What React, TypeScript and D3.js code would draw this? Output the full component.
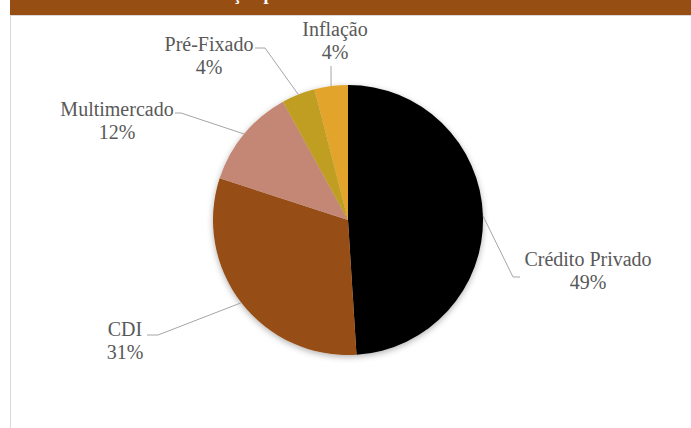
import { useRef, useEffect } from 'react';
import * as d3 from 'd3';

const categories = ['Crédito Privado', 'CDI', 'Multimercado', 'Pré-Fixado', 'Inflação'];
const values = [49, 31, 12, 4, 4];
const percentLabels = ['49%', '31%', '12%', '4%', '4%'];
const colors = ['#000000', '#974E13', '#C48776', '#BF9E22', '#E2A42C'];

// label text centre + elbow point of the leader line (layout only)
const labelLayout = [
  { x: 588, y: 266, elbow: [[513, 277], [520, 277]] },
  { x: 125, y: 336, elbow: [[158, 335], [147, 335]] },
  { x: 117, y: 116, elbow: [[181, 113], [175, 113]] },
  { x: 209, y: 51, elbow: [[265, 48], [255, 48]] },
  { x: 335, y: 36, elbow: [[331, 66]] },
];

const SERIF = "'Liberation Serif', 'DejaVu Serif', 'Times New Roman', serif";

export default function App() {
  const svgRef = useRef<SVGSVGElement>(null);

  useEffect(() => {
    const width = 691;
    const height = 428;
    const cx = 348;
    const cy = 220;
    const radius = 135;

    const svg = d3.select(svgRef.current);
    svg.selectAll('*').remove();
    svg.attr('viewBox', `0 0 ${width} ${height}`);

    const defs = svg.append('defs');
    const f = defs.append('filter').attr('id', 'shadow')
      .attr('x', '-20%').attr('y', '-20%').attr('width', '140%').attr('height', '140%');
    f.append('feDropShadow')
      .attr('dx', 0).attr('dy', 2).attr('stdDeviation', 3)
      .attr('flood-color', '#000').attr('flood-opacity', 0.3);

    svg.append('rect').attr('width', width).attr('height', height).attr('fill', '#ffffff');

    // chart frame
    svg.append('rect')
      .attr('x', 10.5).attr('y', 15.5)
      .attr('width', 700).attr('height', 430)
      .attr('fill', 'none').attr('stroke', '#d9d9d9');

    // title band (title itself is scrolled off the top, only descenders peek in)
    svg.append('rect')
      .attr('x', 10).attr('y', 0).attr('width', width).attr('height', 15)
      .attr('fill', '#974E13');
    svg.append('text')
      .attr('x', 189).attr('y', 0)
      .attr('fill', '#ffffff')
      .attr('font-family', SERIF)
      .attr('font-size', 18)
      .attr('font-weight', 700)
      .text('Alocação por Classe de Ativo');

    const pie = d3.pie<number>().value(d => d).sort(null);
    const arcs = pie(values);
    const arc = d3.arc<d3.PieArcDatum<number>>().innerRadius(0).outerRadius(radius);
    const edge = d3.arc<d3.PieArcDatum<number>>().innerRadius(radius).outerRadius(radius);

    const g = svg.append('g').attr('transform', `translate(${cx},${cy})`);
    g.append('g').attr('filter', 'url(#shadow)')
      .selectAll('path')
      .data(arcs)
      .enter()
      .append('path')
      .attr('d', arc)
      .attr('fill', (d, i) => colors[i]);

    // leader lines
    arcs.forEach((d, i) => {
      const [ex, ey] = edge.centroid(d);
      const pts = [[cx + ex, cy + ey], ...labelLayout[i].elbow];
      svg.append('path')
        .attr('d', d3.line()(pts as [number, number][]))
        .attr('fill', 'none')
        .attr('stroke', '#a6a6a6')
        .attr('stroke-width', 1);
    });

    const labels = svg.append('g')
      .attr('font-family', SERIF)
      .attr('font-size', 20)
      .attr('fill', '#595959')
      .attr('text-anchor', 'middle');

    categories.forEach((c, i) => {
      const l = labelLayout[i];
      labels.append('text').attr('x', l.x).attr('y', l.y).text(c);
      labels.append('text').attr('x', l.x).attr('y', l.y + 23).text(percentLabels[i]);
    });
  }, []);

  return (
    <div style={{ position: 'fixed', left: 0, top: 0 }}>
      <svg ref={svgRef} width={691} height={428} style={{ display: 'block' }}></svg>
    </div>
  );
}
